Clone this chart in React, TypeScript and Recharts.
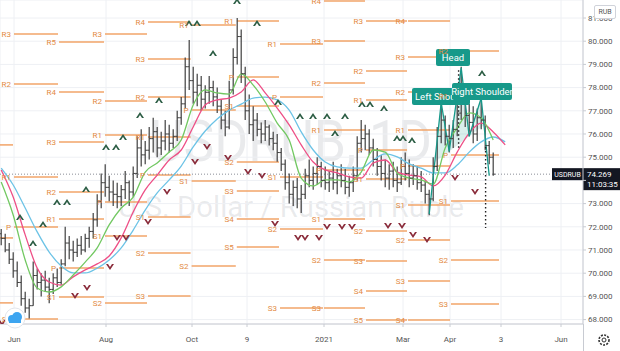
import React from "react";
import {
  ComposedChart,
  XAxis,
  YAxis,
  CartesianGrid,
  Line,
  Area,
  Scatter,
  ErrorBar,
  ReferenceLine,
  ReferenceDot,
} from "recharts";

// USDRUB daily bars (one entry ~ every 2 sessions, late May 2020 -> late Apr 2021)
const barHigh = [
  71.9, 71.7, 71.3, 70.9, 70.5, 69.9, 69.2, 68.9, 70.5, 70.2,
  70.0, 70.1, 69.8, 70.0, 70.2, 70.6, 72.0, 71.6, 71.4, 71.5,
  71.6, 71.7, 72.0, 72.6, 73.4, 74.3, 74.7, 74.2, 74.0, 73.9,
  73.8, 74.4, 74.0, 74.6, 75.9, 76.2, 75.7, 76.3, 76.7, 76.3,
  76.1, 76.6, 76.4, 76.2, 77.0, 77.6, 79.3, 80.05, 78.9, 78.6,
  78.5, 78.1, 78.5, 78.3, 78.0, 77.5, 77.0, 78.3, 79.7, 81.0,
  80.5, 78.9, 77.7, 77.2, 76.9, 76.5, 76.6, 76.4, 76.1, 76.0,
  75.4, 74.9, 74.3, 74.0, 74.1, 73.8, 74.5, 74.9, 74.6, 75.0,
  74.8, 74.6, 74.4, 74.8, 74.5, 74.7, 74.5, 74.2, 74.6, 75.9,
  76.6, 76.4, 76.2, 75.8, 75.4, 75.1, 74.9, 74.7, 74.8, 74.6,
  75.0, 75.2, 74.9, 74.7, 74.6, 74.4, 74.0, 73.6, 75.0, 76.3,
  77.4, 76.8, 76.4, 76.6, 77.3, 78.9, 77.8, 77.3, 77.2, 77.1,
  77.6, 76.8, 75.7, 75.2,
];
const barLow = [
  71.2, 70.9, 70.4, 69.8, 69.4, 68.6, 68.3, 68.05, 68.6, 69.3,
  69.0, 69.2, 68.7, 69.1, 69.4, 69.5, 70.3, 70.6, 70.5, 70.7,
  70.8, 70.9, 71.1, 71.5, 72.0, 72.8, 73.3, 73.1, 72.9, 72.8,
  72.9, 73.2, 72.9, 73.3, 74.1, 74.6, 74.7, 74.9, 75.2, 75.0,
  75.1, 75.3, 75.2, 75.4, 75.7, 76.4, 77.1, 77.9, 77.3, 77.2,
  77.0, 77.1, 77.3, 77.2, 76.9, 76.2, 75.9, 76.2, 77.7, 79.0,
  78.2, 76.6, 76.0, 75.7, 75.9, 75.6, 75.7, 75.5, 75.3, 74.8,
  74.4, 73.6, 73.0, 72.9, 72.8, 72.6, 73.2, 73.7, 73.6, 73.8,
  73.7, 73.6, 73.5, 73.6, 73.4, 73.7, 73.4, 73.3, 73.5, 74.0,
  75.2, 75.3, 75.1, 74.6, 74.2, 74.0, 73.7, 73.6, 73.7, 73.5,
  73.8, 74.0, 73.7, 73.8, 73.6, 73.5, 73.0, 72.5, 73.1, 74.4,
  75.6, 75.5, 75.2, 75.4, 75.9, 76.6, 76.3, 75.9, 75.6, 75.7,
  76.2, 75.3, 74.7, 74.2,
];
const barClose = [
  71.5, 71.0, 70.6, 70.1, 69.6, 68.9, 68.5, 68.6, 69.9, 69.6,
  69.7, 69.4, 69.3, 69.8, 69.6, 70.4, 71.3, 71.0, 70.9, 71.2,
  71.0, 71.5, 71.8, 72.3, 73.1, 73.9, 73.7, 73.5, 73.4, 73.3,
  73.6, 73.9, 73.5, 74.3, 75.4, 75.1, 75.3, 75.8, 76.1, 75.4,
  75.7, 76.0, 75.6, 75.9, 76.7, 77.3, 78.9, 78.3, 77.8, 78.1,
  77.5, 77.8, 78.0, 77.6, 77.2, 76.6, 76.3, 77.9, 79.3, 80.2,
  78.6, 77.0, 76.4, 76.6, 76.2, 76.0, 76.3, 75.8, 75.6, 75.2,
  74.7, 73.9, 73.4, 73.7, 73.2, 73.4, 74.2, 74.0, 74.3, 74.6,
  74.0, 73.9, 74.1, 73.9, 74.2, 74.0, 73.7, 73.9, 74.2, 75.6,
  75.8, 76.0, 75.4, 74.9, 74.6, 74.3, 74.1, 74.4, 74.0, 73.9,
  74.6, 74.3, 74.1, 74.2, 73.9, 73.8, 73.4, 73.2, 74.6, 75.9,
  76.6, 75.9, 75.8, 76.2, 76.9, 77.6, 76.8, 76.5, 76.0, 76.7,
  76.6, 75.5, 75.0, 74.269,
];
const firstOpen = 71.7;
const lastPrice = 74.269;

// Williams Alligator, one value every 3rd bar (the lines run a little past the last bar)
const MA_STEP = 3;
const lips = [
  73.93, 72.51, 70.57, 69.36, 69.19, 69.41, 69.92, 70.48, 71.09, 72.08, 72.81,
  73.28, 74.36, 74.75, 75.22, 75.74, 77.25, 77.9, 77.77, 77.72, 78.59, 78.11,
  77.38, 76.47, 75.74, 74.1, 73.76, 74.02, 74.02, 73.93, 74.36, 75.31, 75.22,
  74.32, 74.1, 74.02, 73.84, 75.4, 76.26, 76.91, 76.69, 75.74, null,
];
const teeth = [
  74.45, 73.28, 71.65, 70.22, 69.62, 69.49, 69.84, 70.14, 70.4, 70.74, 71.52,
  72.64, 73.59, 74.23, 74.88, 75.31, 76.3, 77.25, 77.47, 77.55, 77.81, 78.33,
  77.77, 77.12, 76.39, 75.53, 74.79, 74.45, 74.32, 74.15, 74.1, 74.75, 74.88,
  74.36, 74.23, 74.15, 73.76, 74.23, 75.22, 76.04, 76.47, 76.09, 75.53,
];
const jaw = [
  74.53, 73.8, 72.81, 71.78, 70.91, 70.31, 70.01, 70.01, 70.22, 70.57, 71.09,
  71.86, 72.72, 73.46, 74.02, 74.62, 75.44, 76.13, 76.65, 77.03, 77.29, 77.55,
  77.59, 77.47, 77.03, 76.09, 75.31, 74.79, 74.58, 74.53, 74.53, 74.88, 75.14,
  75.01, 74.71, 74.53, 74.32, 74.32, 74.66, 75.22, 75.66, 75.87, 75.66,
];

const xTickPos = [3.2, 26.2, 47.7, 61.45, 80.7, 100.45, 112.2, 124.95, 139.95];
const xTickLabels = ["Jun", "Aug", "Oct", "9", "2021", "Mar", "Apr", "3", "Jun"];
const yTicks = [68, 69, 70, 71, 72, 73, 74, 75, 76, 77, 78, 79, 80, 81];

// monthly pivot periods May 2020 .. May 2021 (bar index where each month starts)
const monthStart = [-4, 3.2, 14.45, 25.95, 36.7, 47.6, 58.9, 69.7, 80.7, 91.2, 101.7, 112.45, 124.7];
// [month, label, level]
const pivotLevels: [number, string, number][] = [
  [0, "R1", 75.53], [0, "P", 71.52], [0, "S1", 68.72],
  [1, "R3", 80.31], [1, "R2", 78.16], [1, "R1", 74.15], [1, "P", 71.99], [1, "S1", 68.03],
  [2, "R5", 79.97], [2, "R4", 77.81], [2, "R3", 75.66], [2, "R2", 73.5], [2, "R1", 72.34], [2, "P", 70.22], [2, "S1", 68.97],
  [3, "R3", 80.31], [3, "R2", 77.42], [3, "R1", 75.96], [3, "P", 73.07], [3, "S1", 71.6], [3, "S2", 68.72],
  [4, "R4", 80.83], [4, "R3", 79.23], [4, "R2", 77.59], [4, "R1", 75.87], [4, "P", 74.23], [4, "S1", 72.42], [4, "S2", 70.87], [4, "S3", 69.02],
  [5, "R1", 80.7], [5, "P", 77.03], [5, "S1", 73.97], [5, "S2", 70.31],
  [6, "R1", 80.87], [6, "P", 78.46], [6, "S1", 77.21], [6, "S2", 74.79], [6, "S3", 73.54], [6, "S4", 72.34], [6, "S5", 71.13],
  [7, "R1", 79.88], [7, "P", 77.59], [7, "S1", 74.15], [7, "S2", 71.91], [7, "S3", 68.5],
  [8, "R4", 81.73], [8, "R3", 80.01], [8, "R2", 78.2], [8, "R1", 76.17], [8, "P", 74.45], [8, "S1", 72.34], [8, "S2", 70.57], [8, "S3", 68.5],
  [9, "R3", 80.87], [9, "R2", 78.72], [9, "R1", 77.47], [9, "P", 75.31], [9, "S1", 74.06], [9, "S2", 71.82], [9, "S3", 70.53], [9, "S4", 69.23], [9, "S5", 67.98],
  [10, "R4", 80.87], [10, "R3", 79.32], [10, "R2", 77.81], [10, "R1", 76.17], [10, "P", 74.62], [10, "S1", 72.94], [10, "S2", 71.43], [10, "S3", 69.66], [10, "S4", 67.98],
  [11, "R2", 79.58], [11, "R1", 77.64], [11, "P", 75.09], [11, "S1", 73.11], [11, "S2", 70.57], [11, "S3", 68.67],
];

// williams fractals
const fractalUpIdx = [4.7, 7.95, 10.45, 13.95, 16.45, 21.2, 26.2, 28.7, 30.45, 34.7, 39.45, 46.95, 48.95, 52.95, 58.95, 63.95, 69.2, 74.7, 77.95, 81.45, 83.45, 85.95, 90.2, 92.2, 95.7, 98.95, 100.45, 102.7, 120.2];
const fractalUpPrice = [72.42, 71.3, 72.12, 73.07, 73.07, 73.63, 75.44, 75.44, 75.87, 76.82, 77.47, 80.78, 80.78, 79.49, 81.73, 80.78, 77.38, 76.78, 76.78, 76.78, 76.04, 76.78, 77.29, 77.29, 77.12, 75.83, 75.83, 75.74, 78.63];
const fractalDnIdx = [0.2, 18.45, 21.45, 27.2, 28.95, 31.2, 36.7, 41.45, 48.45, 51.45, 56.7, 61.7, 65.2, 68.45, 74.2, 75.95, 79.45, 81.45, 85.2, 87.7, 96.7, 100.2, 102.95, 106.45, 113.45, 118.45];
const fractalDnPrice = [67.85, 69.02, 69.36, 70.27, 71.52, 71.52, 72.21, 73.5, 74.79, 75.44, 74.97, 74.36, 74.19, 72.12, 71.52, 71.52, 71.52, 71.99, 71.99, 71.99, 72.03, 72.03, 71.65, 71.43, 74.1, 73.5];

// head & shoulders drawing
const hsIdx = [107, 110, 112, 115, 117, 120, 122];
const hsPrice = [72.55, 77.35, 75.25, 78.85, 75.9, 77.55, 74.2];
const hsFillIdx = [108.4, 110, 112, 115, 117, 120, 120.7];
const hsFillLow = [74.78, 75.0, 75.25, 75.64, 75.9, 76.29, 76.38];
const hsFillHigh = [74.78, 77.35, 75.25, 78.85, 75.9, 77.55, 76.38];
const hsLabelText = ["Left Shoulder", "Head", "Right Shoulder"];
const hsLabelIdx = [109.95, 112.95, 120.2];
const hsLabelPrice = [77.62, 79.3, 77.83];
const targetIdx = [114.35, 121.1];
const targetTop = [78.75, 75.44];
const targetBottom = [75.3, 71.95];

const BAR = "#3f3f3f";
const ORANGE = "#f2a468";
const ORANGE_TEXT = "#e38b45";
const TEAL = "#17998a";
const UP = "#2d5e45";
const DOWN = "#8a2c3b";
const AXIS_TEXT = "#555";

const bars = barClose.map((c, i) => ({
  x: i,
  open: i === 0 ? firstOpen : barClose[i - 1],
  close: c,
  err: [c - barLow[i], barHigh[i] - c],
}));
const toMa = (vals: (number | null)[]) =>
  vals.map((v, k) => ({ x: k * MA_STEP, v })).filter((d) => d.v !== null);
const lipsData = toMa(lips);
const teethData = toMa(teeth);
const jawData = toMa(jaw);
const upData = fractalUpIdx.map((x, k) => ({ x, y: fractalUpPrice[k] }));
const dnData = fractalDnIdx.map((x, k) => ({ x, y: fractalDnPrice[k] }));
const hsData = hsIdx.map((x, k) => ({ x, v: hsPrice[k] }));
const hsFillData = hsFillIdx.map((x, k) => ({ x, range: [hsFillLow[k], hsFillHigh[k]] }));

const CloseTick = (p: any) => (
  <line x1={p.cx} x2={p.cx + 2} y1={p.cy} y2={p.cy} stroke={BAR} strokeWidth={1} />
);
const OpenTick = (p: any) => (
  <line x1={p.cx - 2} x2={p.cx} y1={p.cy} y2={p.cy} stroke={BAR} strokeWidth={1} />
);
const UpMark = (p: any) => {
  const { cx, cy } = p;
  return (
    <path
      d={`M${cx - 4},${cy + 3} L${cx},${cy - 3} L${cx + 4},${cy + 3} L${cx + 2},${cy + 3} L${cx},${cy} L${cx - 2},${cy + 3} Z`}
      fill={UP}
    />
  );
};
const DownMark = (p: any) => {
  const { cx, cy } = p;
  return (
    <path
      d={`M${cx - 4},${cy - 3} L${cx},${cy + 3} L${cx + 4},${cy - 3} L${cx + 2},${cy - 3} L${cx},${cy} L${cx - 2},${cy - 3} Z`}
      fill={DOWN}
    />
  );
};

const labelWidth: Record<string, number> = { "Left Shoulder": 58, Head: 34, "Right Shoulder": 60 };
const TagBox = (p: any) => {
  const w = labelWidth[p.text];
  const left = p.cx - w / 2;
  const centered = p.text !== "Left Shoulder";
  return (
    <g>
      <rect x={left} y={p.cy - 8.5} width={w} height={17} rx={2} fill={TEAL} />
      <text
        x={centered ? p.cx : left + 3}
        y={p.cy + 3.5}
        fill="#fff"
        fontSize={9.5}
        textAnchor={centered ? "middle" : "start"}
      >
        {p.text}
      </text>
    </g>
  );
};

const PriceTag = (props: any) => {
  const vb = props.viewBox;
  const right = vb.x + vb.width;
  const y = vb.y;
  return (
    <g>
      <rect x={right - 31} y={y - 6} width={31} height={12} fill="#131722" />
      <text x={right - 15.5} y={y + 2.5} fill="#fff" fontSize={7} textAnchor="middle">
        USDRUB
      </text>
      <rect x={right} y={y - 6} width={37} height={22} fill="#131722" />
      <text x={right + 4} y={y + 3} fill="#fff" fontSize={8}>
        {lastPrice.toFixed(3)}
      </text>
      <text x={right + 4} y={y + 13} fill="#fff" fontSize={8}>
        11:03:35
      </text>
    </g>
  );
};

export default function App() {
  return (
    <div
      style={{
        position: "fixed",
        left: 0,
        top: 0,
        width: 620,
        height: 351,
        background: "#fff",
        overflow: "hidden",
        fontFamily: "Roboto, 'Liberation Sans', sans-serif",
      }}
    >
      <svg width={583} height={324} style={{ position: "absolute", left: 0, top: 0 }}>
        <text
          x={291}
          y={161}
          fontSize={58}
          textAnchor="middle"
          textLength={282}
          lengthAdjust="spacingAndGlyphs"
          fill="rgba(120,123,134,0.16)"
        >
          USDRUB, 1D
        </text>
        <text
          x={291}
          y={217}
          fontSize={30}
          textAnchor="middle"
          textLength={346}
          lengthAdjust="spacingAndGlyphs"
          fill="rgba(120,123,134,0.16)"
        >
          U.S. Dollar / Russian Ruble
        </text>
      </svg>
      <div style={{ position: "absolute", left: 0, top: 0 }}>
        <ComposedChart width={620} height={351} margin={{ top: 0, right: 0, bottom: 0, left: 0 }}>
          <CartesianGrid stroke="#eef0f4" />
          <XAxis
            type="number"
            dataKey="x"
            domain={[-0.3, 145.45]}
            allowDataOverflow
            ticks={xTickPos}
            interval={0}
            tickFormatter={(v: number) => xTickLabels[xTickPos.indexOf(v)] ?? ""}
            height={27}
            tickSize={3}
            tickMargin={9}
            stroke="#c8cbd2"
            tick={{ fontSize: 8, fill: AXIS_TEXT }}
          />
          <YAxis
            type="number"
            orientation="right"
            domain={[67.81, 81.776]}
            allowDataOverflow
            ticks={yTicks}
            interval={0}
            tickFormatter={(v: number) => (v === 74 ? "" : v.toFixed(3))}
            width={37}
            tickSize={3}
            tickMargin={2}
            stroke="#c8cbd2"
            tick={{ fontSize: 8, fill: AXIS_TEXT }}
          />
          {pivotLevels.map(([m, lab, price], k) => (
            <ReferenceLine
              key={`pv${k}`}
              segment={[
                { x: monthStart[m], y: price },
                { x: monthStart[m + 1] - 0.25, y: price },
              ]}
              stroke={ORANGE}
              strokeWidth={1.5}
              ifOverflow="hidden"
              label={
                monthStart[m] > 0
                  ? { value: lab, position: "left", fill: ORANGE_TEXT, fontSize: 8, offset: 3 }
                  : undefined
              }
            />
          ))}
          <ReferenceLine y={lastPrice} stroke="#8a8d96" strokeDasharray="1 2" label={PriceTag} />
          <Area
            data={hsFillData}
            dataKey="range"
            type="linear"
            stroke="none"
            fill={TEAL}
            fillOpacity={0.16}
            isAnimationActive={false}
          />
          <Scatter data={bars} dataKey="close" shape={CloseTick} isAnimationActive={false}>
            <ErrorBar dataKey="err" direction="y" width={0} stroke={BAR} strokeWidth={1.2} />
          </Scatter>
          <Scatter data={bars} dataKey="open" shape={OpenTick} isAnimationActive={false} />
          <Line data={jawData} dataKey="v" type="monotone" stroke="#6cc3e6" strokeWidth={1.3} dot={false} activeDot={false} isAnimationActive={false} />
          <Line data={teethData} dataKey="v" type="monotone" stroke="#ee4f86" strokeWidth={1.3} dot={false} activeDot={false} isAnimationActive={false} />
          <Line data={lipsData} dataKey="v" type="monotone" stroke="#72c862" strokeWidth={1.3} dot={false} activeDot={false} isAnimationActive={false} />
          <Line data={hsData} dataKey="v" type="linear" stroke={TEAL} strokeWidth={1.3} dot={false} activeDot={false} isAnimationActive={false} />
          <Scatter data={upData} dataKey="y" shape={UpMark} isAnimationActive={false} />
          <Scatter data={dnData} dataKey="y" shape={DownMark} isAnimationActive={false} />
          {targetIdx.map((x, k) => (
            <ReferenceLine
              key={`tg${k}`}
              segment={[
                { x, y: targetTop[k] },
                { x, y: targetBottom[k] },
              ]}
              stroke="#1e1e1e"
              strokeWidth={1.4}
              strokeDasharray="1.5 2.5"
            />
          ))}
          {hsLabelText.map((t, k) => (
            <ReferenceDot
              key={`hl${k}`}
              x={hsLabelIdx[k]}
              y={hsLabelPrice[k]}
              r={0}
              shape={(p: any) => <TagBox {...p} text={t} />}
            />
          ))}
        </ComposedChart>
      </div>
      <div
        style={{
          position: "absolute",
          left: 594,
          top: 5,
          width: 20,
          height: 12,
          border: "1px solid #d0d3da",
          borderRadius: 2,
          background: "#fff",
          fontSize: 7,
          lineHeight: "12px",
          textAlign: "center",
          color: "#555",
        }}
      >
        RUB
      </div>
      <div style={{ position: "absolute", left: 583, top: 324, width: 1, height: 27, background: "#c8cbd2" }} />
      <svg width={14} height={14} style={{ position: "absolute", left: 597, top: 333 }}>
        <circle cx={7} cy={7} r={5} fill="none" stroke="#333" strokeWidth={1.6} strokeDasharray="2 1.3" />
        <circle cx={7} cy={7} r={2} fill="none" stroke="#333" strokeWidth={1} />
      </svg>
      <svg width={24} height={22} style={{ position: "absolute", left: 3, top: 307 }}>
        <circle cx={12} cy={11} r={10} fill="#fff" stroke="#e3e6ec" />
        <circle cx={9} cy={12} r={4} fill="#3da5f0" />
        <circle cx={14} cy={10} r={5} fill="#3da5f0" />
        <rect x={6} y={12} width={12} height={4} fill="#3da5f0" />
      </svg>
    </div>
  );
}
